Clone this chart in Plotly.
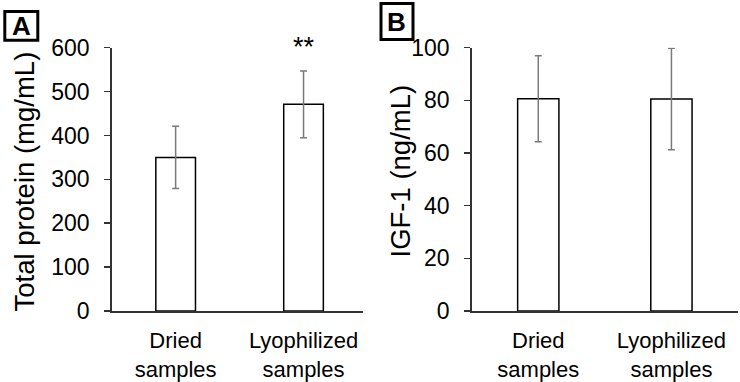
import plotly.graph_objects as go

categories = ["Dried<br>samples", "Lyophilized<br>samples"]
protein_mean = [350, 471]
protein_err = [71, 76]
igf_mean = [80.6, 80.5]
igf_err = [16.3, 19.3]
protein_ticks = [0, 100, 200, 300, 400, 500, 600]
igf_ticks = [0, 20, 40, 60, 80, 100]

FONT = "Liberation Sans, Arial, sans-serif"
W, H = 740, 382

def px_x(p):
    return p / W

def px_y(p):
    return 1 - p / H

fig = go.Figure()
bar_style = dict(marker=dict(color="white", line=dict(color="black", width=1.5)),
                 width=0.31, showlegend=False)
err_style = dict(type="data", color="#7a7a7a", thickness=1.5, width=3.5)

fig.add_trace(go.Bar(x=[0, 1], y=protein_mean,
                     error_y=dict(array=protein_err, **err_style),
                     xaxis="x", yaxis="y", **bar_style))
fig.add_trace(go.Bar(x=[0, 1], y=igf_mean,
                     error_y=dict(array=igf_err, **err_style),
                     xaxis="x2", yaxis="y2", **bar_style))

ydom = [px_y(311), px_y(47.7)]
xax = dict(tickmode="array", tickvals=[0, 1], ticktext=categories,
           showline=True, linecolor="#333333", linewidth=1.5, ticks="", showgrid=False,
           zeroline=False, tickfont=dict(size=22, color="black", family=FONT),
           automargin=False, fixedrange=True, ticklabelstandoff=9)
yax = dict(showline=True, linecolor="#333333", linewidth=1.5, ticks="outside",
           ticklen=6, tickcolor="#333333", tickwidth=1.5, showgrid=False, zeroline=False,
           tickfont=dict(size=23, color="black", family=FONT), automargin=False,
           ticklabelstandoff=10, fixedrange=True)

fig.update_layout(
    width=W, height=H,
    margin=dict(l=0, r=0, t=0, b=0),
    paper_bgcolor="white", plot_bgcolor="white",
    font=dict(family=FONT, color="black"),
    bargap=0,
    xaxis=dict(domain=[px_x(111.7), px_x(363)], anchor="y", range=[-0.5, 1.465], **xax),
    yaxis=dict(domain=ydom, anchor="x", range=[0, 600], tickvals=protein_ticks, **yax),
    xaxis2=dict(domain=[px_x(471.7), px_x(738)], anchor="y2", range=[-0.5, 1.5], **xax),
    yaxis2=dict(domain=ydom, anchor="x2", range=[0, 100], tickvals=igf_ticks, **yax),
)

# axis titles
fig.add_annotation(text="Total protein (mg/mL)", textangle=-90, xref="paper", yref="paper",
                   x=px_x(24), y=px_y(181.5), xanchor="center", yanchor="middle",
                   showarrow=False, font=dict(size=27.5, color="black", family=FONT))
fig.add_annotation(text="IGF-1 (ng/mL)", textangle=-90, xref="paper", yref="paper",
                   x=px_x(400), y=px_y(171.5), xanchor="center", yanchor="middle",
                   showarrow=False, font=dict(size=27.5, color="black", family=FONT))

# significance
fig.add_annotation(text="**", xref="x", yref="paper", x=1, y=px_y(47),
                   xanchor="center", yanchor="middle", showarrow=False,
                   font=dict(size=27, color="black", family=FONT))

# panel labels
for label, x0, x1, y0, y1 in [("A", 3.3, 39.3, 10, 41.7), ("B", 379.5, 414.5, 2, 41)]:
    fig.add_shape(type="rect", xref="paper", yref="paper",
                  x0=px_x(x0 + 1.5), x1=px_x(x1 - 1.5), y0=px_y(y0 + 1.5), y1=px_y(y1 - 1.5),
                  line=dict(color="black", width=3), fillcolor="rgba(0,0,0,0)")
    fig.add_annotation(text="<b>%s</b>" % label, xref="paper", yref="paper",
                       x=px_x((x0 + x1) / 2), y=px_y((y0 + y1) / 2 + 0.5),
                       xanchor="center", yanchor="middle", showarrow=False,
                       font=dict(size=26, color="black", family=FONT))

fig.write_html("out.html", config={"displayModeBar": False, "staticPlot": True},
               post_script="document.body.style.margin='0';document.body.style.padding='0';")
